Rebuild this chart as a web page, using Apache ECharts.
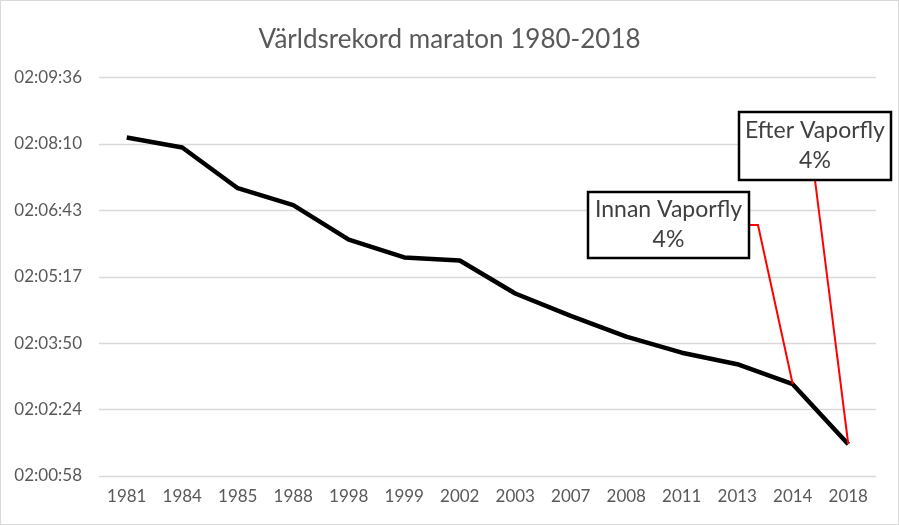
<!DOCTYPE html>
<html lang="sv">
<head>
    <meta charset="UTF-8">
    <title>Världsrekord maraton</title>
    <script src="https://cdn.jsdelivr.net/npm/echarts@6/dist/echarts.min.js"></script>
    <style type="text/css">
        body{
            margin: 0px;
            padding: 0px;
        }
        #chart{
            width: 899px;
            height: 525px;
            box-sizing: border-box;
            border: 1px solid #d9d9d9;
            background: #fff;
        }
    </style>
</head>
<body>
<div id="chart"></div>
<script type="text/javascript">
    // år för varje rekord
    var years = ['1981', '1984', '1985', '1988', '1998', '1999', '2002', '2003', '2007', '2008', '2011', '2013', '2014', '2018'];
    // rekordtider
    var times = ['2:08:18', '2:08:05', '2:07:12', '2:06:50', '2:06:05', '2:05:42', '2:05:38', '2:04:55', '2:04:26', '2:03:59', '2:03:38', '2:03:23', '2:02:57', '2:01:39'];
    // axelns gränser i sekunder (0,001 dygn per steg)
    var yMin = 7257.6;
    var yMax = 7776;
    var yStep = 86.4;
    var notes = ['Innan Vaporfly\n4%', 'Efter Vaporfly\n4%'];

    function toSec(t) {
        var p = t.split(':');
        return (+p[0]) * 3600 + (+p[1]) * 60 + (+p[2]);
    }
    function pad(n) {
        return (n < 10 ? '0' : '') + n;
    }
    function fmt(v) {
        var s = Math.round(v);
        return pad(Math.floor(s / 3600)) + ':' + pad(Math.floor(s % 3600 / 60)) + ':' + pad(s % 60);
    }

    var values = times.map(toSec);
    var font = 'Lato, "Open Sans", sans-serif';

    var myChart = echarts.init(document.getElementById('chart'));
    myChart.setOption({
        animation: false,
        title: {
            text: 'Världsrekord maraton 1980-2018',
            left: 'center',
            top: 21,
            textStyle: {
                fontFamily: font,
                fontSize: 26,
                fontWeight: 'normal',
                color: '#595959'
            }
        },
        grid: {
            left: 98,
            right: 22,
            top: 76.5,
            bottom: 48
        },
        xAxis: {
            type: 'category',
            data: years,
            boundaryGap: true,
            axisLine: {show: false},
            axisTick: {show: false},
            axisLabel: {
                fontFamily: font,
                fontSize: 17,
                color: '#595959',
                margin: 12
            }
        },
        yAxis: {
            type: 'value',
            min: yMin,
            max: yMax,
            interval: yStep,
            axisLine: {show: false},
            axisTick: {show: false},
            splitLine: {lineStyle: {color: '#d9d9d9', width: 1.3}},
            axisLabel: {
                fontFamily: font,
                fontSize: 17,
                color: '#595959',
                margin: 17,
                formatter: fmt
            }
        },
        series: [{
            type: 'line',
            data: values,
            symbol: 'none',
            lineStyle: {color: '#000', width: 4.5, join: 'round'}
        }]
    });

    // pratbubblor med röda linjer till punkterna
    function box(x, y, w, h, text) {
        return {
            type: 'group',
            children: [
                {type: 'rect', shape: {x: x, y: y, width: w, height: h},
                 style: {fill: '#fff', stroke: '#000', lineWidth: 2.5}, z: 10},
                {type: 'text', x: x + w / 2, y: y + h / 2, z: 11,
                 style: {text: text, fontFamily: font, fontSize: 23, fill: '#404040',
                         align: 'center', verticalAlign: 'middle', lineHeight: 30}}
            ]
        };
    }
    var p2014 = myChart.convertToPixel({gridIndex: 0}, [12, values[12]]);
    var p2018 = myChart.convertToPixel({gridIndex: 0}, [13, values[13]]);
    myChart.setOption({
        graphic: [
            {type: 'polyline', z: 9, shape: {points: [[748, 224], [757, 224], p2014]},
             style: {stroke: '#ff0000', lineWidth: 2, fill: null}},
            {type: 'line', z: 9, shape: {x1: 814, y1: 179, x2: p2018[0], y2: p2018[1]},
             style: {stroke: '#ff0000', lineWidth: 2}},
            box(587, 191, 161, 66, notes[0]),
            box(738, 111, 152, 68, notes[1])
        ]
    });
</script>
</body>
</html>
